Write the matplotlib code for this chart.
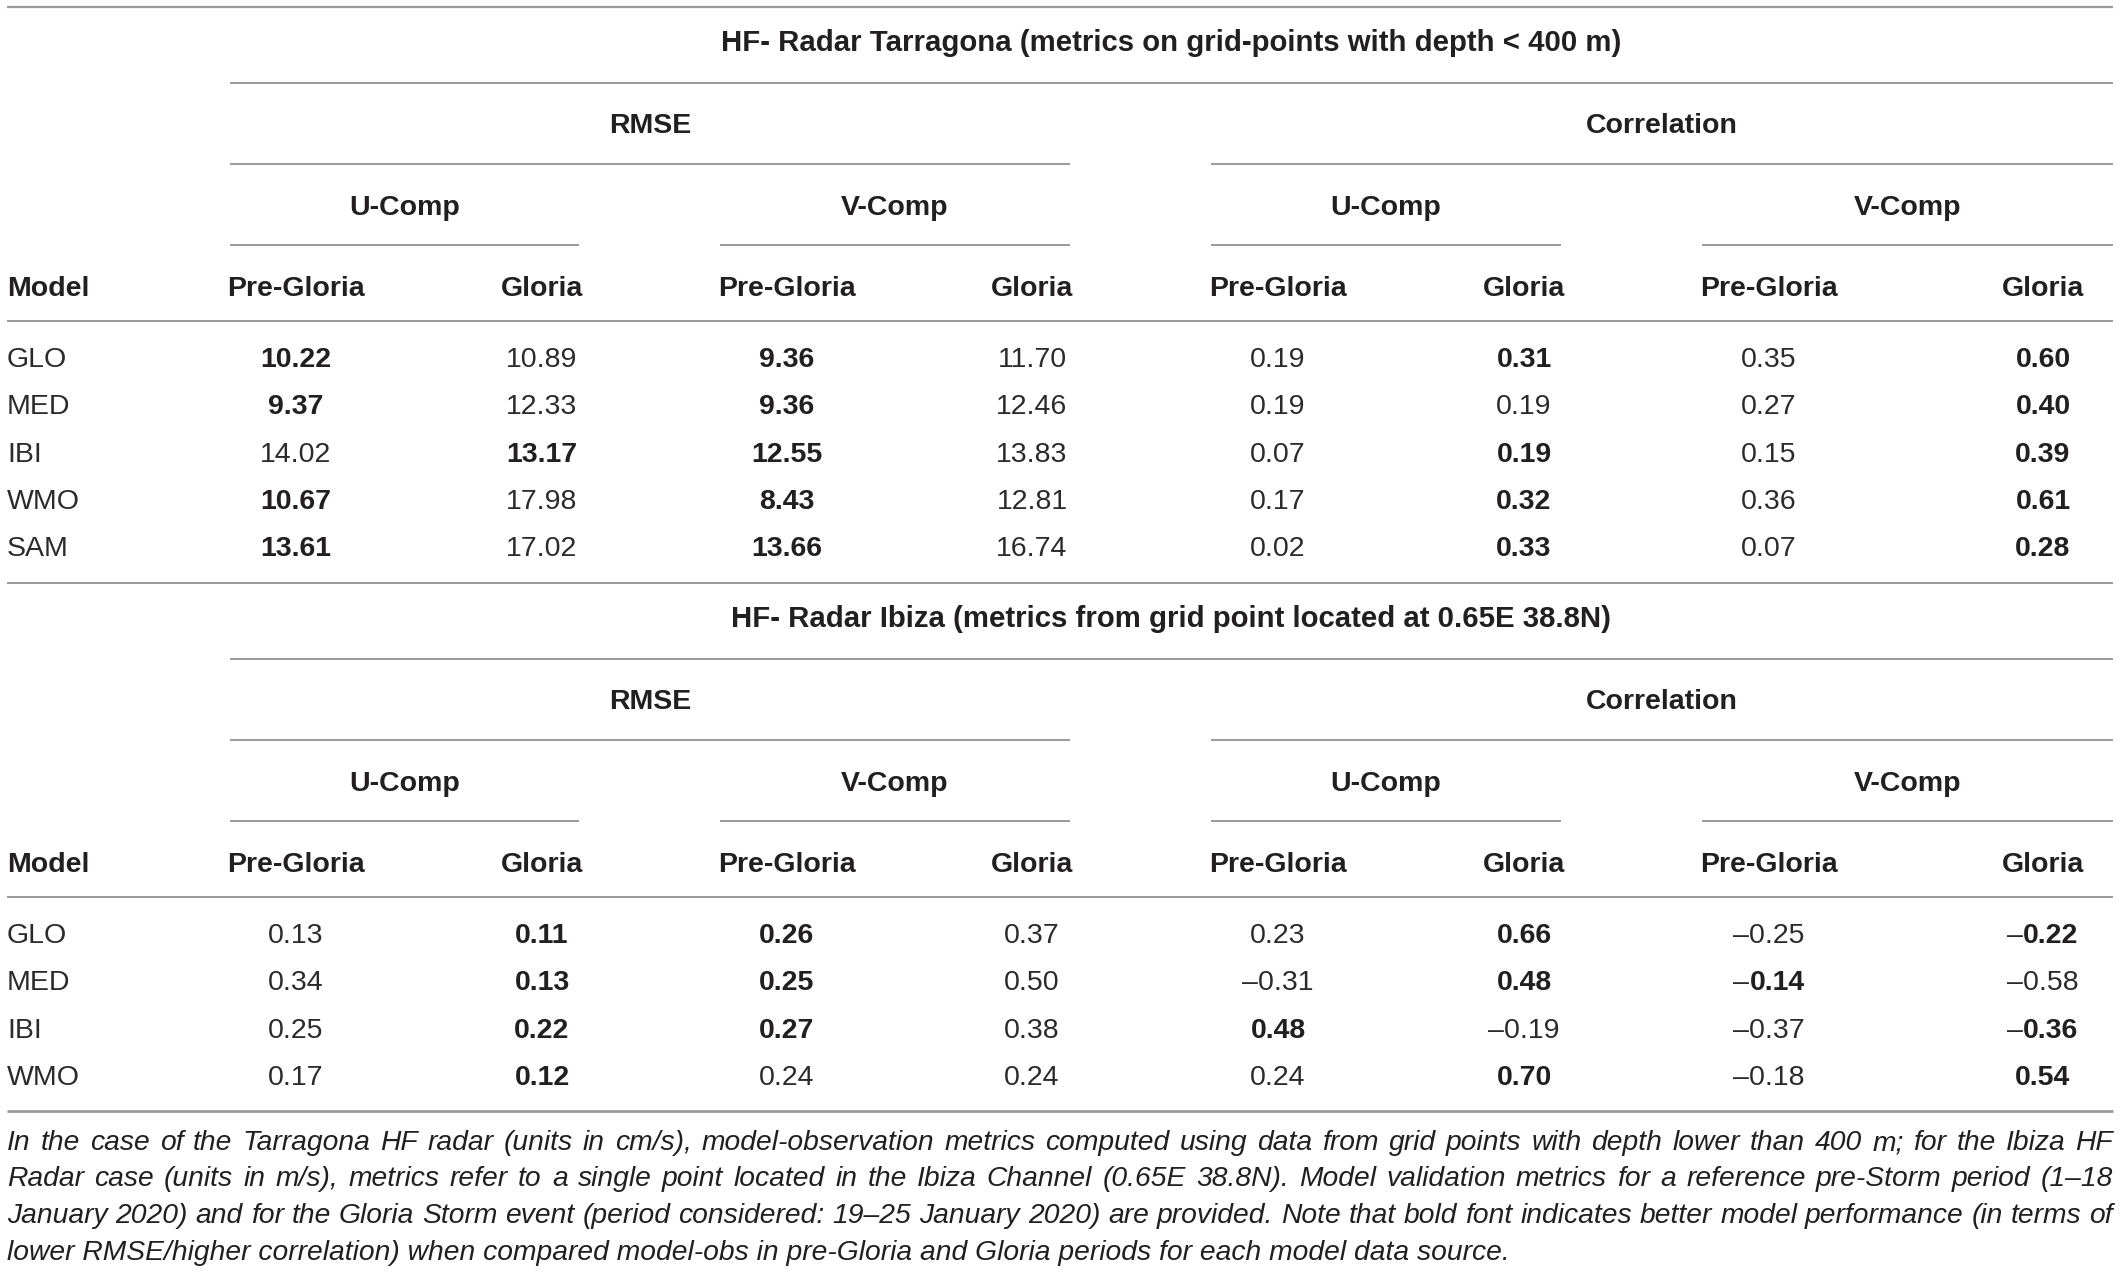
import matplotlib
matplotlib.use('Agg')
from matplotlib import pyplot as plt

plt.rcParams['font.family'] = 'Liberation Sans'

# Tarragona block (cm/s)
models_trg = ['GLO', 'MED', 'IBI', 'WMO', 'SAM']
rmse_u_pre_trg = [10.22, 9.37, 14.02, 10.67, 13.61]
rmse_u_glo_trg = [10.89, 12.33, 13.17, 17.98, 17.02]
rmse_v_pre_trg = [9.36, 9.36, 12.55, 8.43, 13.66]
rmse_v_glo_trg = [11.70, 12.46, 13.83, 12.81, 16.74]
corr_u_pre_trg = [0.19, 0.19, 0.07, 0.17, 0.02]
corr_u_glo_trg = [0.31, 0.19, 0.19, 0.32, 0.33]
corr_v_pre_trg = [0.35, 0.27, 0.15, 0.36, 0.07]
corr_v_glo_trg = [0.60, 0.40, 0.39, 0.61, 0.28]

# Ibiza block (m/s)
models_ibz = ['GLO', 'MED', 'IBI', 'WMO']
rmse_u_pre_ibz = [0.13, 0.34, 0.25, 0.17]
rmse_u_glo_ibz = [0.11, 0.13, 0.22, 0.12]
rmse_v_pre_ibz = [0.26, 0.25, 0.27, 0.24]
rmse_v_glo_ibz = [0.37, 0.50, 0.38, 0.24]
corr_u_pre_ibz = [0.23, -0.31, 0.48, 0.24]
corr_u_glo_ibz = [0.66, 0.48, -0.19, 0.70]
corr_v_pre_ibz = [-0.25, -0.14, -0.37, -0.18]
corr_v_glo_ibz = [-0.22, -0.58, -0.36, 0.54]

title_trg = 'HF- Radar Tarragona (metrics on grid-points with depth < 400 m)'
title_ibz = 'HF- Radar Ibiza (metrics from grid point located at 0.65E 38.8N)'
metric_names = ['RMSE', 'Correlation']
comp_names = ['U-Comp', 'V-Comp']
period_names = ['Pre-Gloria', 'Gloria']

caption_lines = [
    'In the case of the Tarragona HF radar (units in cm/s), model-observation metrics computed using data from grid points with depth lower than 400 m; for the Ibiza HF',
    'Radar case (units in m/s), metrics refer to a single point located in the Ibiza Channel (0.65E 38.8N). Model validation metrics for a reference pre-Storm period (1\u201318',
    'January 2020) and for the Gloria Storm event (period considered: 19\u201325 January 2020) are provided. Note that bold font indicates better model performance (in terms of',
    'lower RMSE/higher correlation) when compared model-obs in pre-Gloria and Gloria periods for each model data source.',
]

W, H = 2121, 1272
fig = plt.figure(figsize=(W / 100, H / 100), dpi=100)
ax = fig.add_axes([0, 0, 1, 1])
ax.set_xlim(0, W)
ax.set_ylim(H, 0)
ax.axis('off')
renderer = fig.canvas.get_renderer()

FS = 20.5
DARK = '#231f20'
NUM = '#2b2b2b'
RULE = '#9a9a9a'

x_left, x_right = 7, 2113
col_x = [296, 542, 787, 1032, 1278, 1524, 1769, 2043]
comp_spans = [(230, 579), (720, 1070), (1211, 1561), (1702, 2113)]
metric_spans = [(230, 1070), (1211, 2113)]


def width_of(s, **kw):
    t = ax.text(0, 0, s, **kw)
    w = t.get_window_extent(renderer).width
    t.remove()
    return w


def rule(y, x0=x_left, x1=x_right, lw=1.4):
    ax.plot([x0, x1], [y, y], color=RULE, lw=lw, solid_capstyle='butt')


def fmt(v):
    s = '%.2f' % abs(v)
    return ('\u2013' if v < 0 else '') + s


def value(cx, y, v, bold):
    if not bold:
        ax.text(cx, y, fmt(v), ha='center', va='center_baseline',
                fontsize=FS, color=NUM)
        return
    num = '%.2f' % abs(v)
    if v < 0:
        # minus stays regular weight, digits bold
        wm = width_of('\u2013', fontsize=FS)
        wn = width_of(num, fontsize=FS, fontweight='bold')
        x0 = cx - (wm + wn) / 2
        ax.text(x0, y, '\u2013', ha='left', va='center_baseline',
                fontsize=FS, color=NUM)
        ax.text(x0 + wm, y, num, ha='left', va='center_baseline',
                fontsize=FS, color=DARK, fontweight='bold')
    else:
        ax.text(cx, y, num, ha='center', va='center_baseline',
                fontsize=FS, color=DARK, fontweight='bold')


def block(y0, title, models, cols):
    # y0 is the rule above the block title
    hdr = dict(ha='center', va='center_baseline', fontsize=FS,
               fontweight='bold', color=DARK)
    ax.text(1171, y0 + 33, title, ha='center', va='center_baseline',
            fontsize=FS * 1.03, fontweight='bold', color=DARK)
    rule(y0 + 76, 230, x_right)
    for name, (a, b) in zip(metric_names, metric_spans):
        ax.text((a + b) / 2, y0 + 116, name, **hdr)
        rule(y0 + 157, a, b)
    for i, (a, b) in enumerate(comp_spans):
        ax.text((a + b) / 2, y0 + 198, comp_names[i % 2], **hdr)
        rule(y0 + 238, a, b)
    ax.text(x_left, y0 + 279, 'Model', ha='left', va='center_baseline',
            fontsize=FS, fontweight='bold', color=DARK)
    for j, cx in enumerate(col_x):
        ax.text(cx, y0 + 279, period_names[j % 2], **hdr)
    rule(y0 + 314)
    for r, m in enumerate(models):
        y = y0 + 350 + r * 47.3
        ax.text(x_left, y, m, ha='left', va='center_baseline',
                fontsize=FS, color=NUM)
        for k in range(4):
            pre, glo = cols[2 * k][r], cols[2 * k + 1][r]
            if k < 2:  # RMSE: lower is better
                bp, bg = pre < glo, glo < pre
            else:      # correlation: higher is better
                bp, bg = pre > glo, glo > pre
            value(col_x[2 * k], y, pre, bp)
            value(col_x[2 * k + 1], y, glo, bg)


rule(7, lw=1.6)
block(7, title_trg, models_trg,
      [rmse_u_pre_trg, rmse_u_glo_trg, rmse_v_pre_trg, rmse_v_glo_trg,
       corr_u_pre_trg, corr_u_glo_trg, corr_v_pre_trg, corr_v_glo_trg])
rule(583)
block(583, title_ibz, models_ibz,
      [rmse_u_pre_ibz, rmse_u_glo_ibz, rmse_v_pre_ibz, rmse_v_glo_ibz,
       corr_u_pre_ibz, corr_u_glo_ibz, corr_v_pre_ibz, corr_v_glo_ibz])
rule(1111, lw=2.0)

# caption: justified italic lines
cap_kw = dict(fontstyle='italic', color=DARK)
w_last = width_of(caption_lines[-1], fontsize=20, **cap_kw)
cap_fs = 20 * (1495 / w_last)
cap_y = [1140, 1176.5, 1213, 1249.5]
for i, line in enumerate(caption_lines):
    y = cap_y[i]
    if i == len(caption_lines) - 1:
        ax.text(x_left, y, line, ha='left', va='center_baseline',
                fontsize=cap_fs, **cap_kw)
        continue
    words = line.split(' ')
    widths = [width_of(w, fontsize=cap_fs, **cap_kw) for w in words]
    gap = (x_right - x_left - sum(widths)) / (len(words) - 1)
    x = x_left
    for w, wd in zip(words, widths):
        ax.text(x, y, w, ha='left', va='center_baseline',
                fontsize=cap_fs, **cap_kw)
        x += wd + gap

fig.savefig('out.png', dpi=100, facecolor='white')
